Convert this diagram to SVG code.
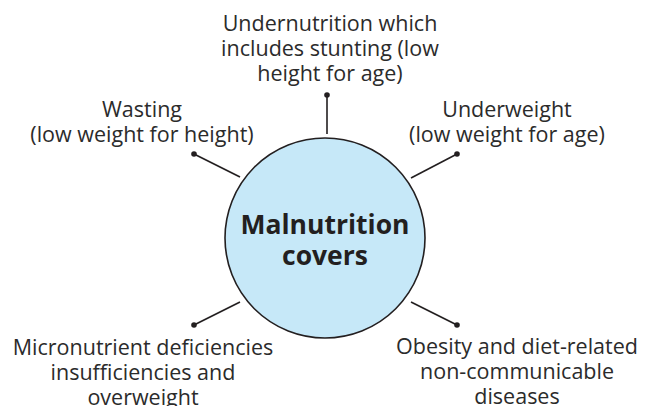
<svg xmlns="http://www.w3.org/2000/svg" width="645" height="406" viewBox="0 0 645 406">
<style>
.t{font-family:"Open Sans","Noto Sans","Liberation Sans",sans-serif;font-size:21.5px;fill:#2b2b2b;text-anchor:middle}
.c{font-family:"Open Sans","Noto Sans","Liberation Sans",sans-serif;font-size:26.5px;font-weight:bold;fill:#231f20;text-anchor:middle}
.ln{stroke:#231f20;stroke-width:1.6;fill:none}
.dot{fill:#231f20}
</style>
<rect width="645" height="406" fill="#ffffff"/>
<g id="connectors">
<line class="ln" x1="327" y1="95" x2="327" y2="134"/><circle class="dot" cx="327" cy="95" r="2.8"/>
<line class="ln" x1="194" y1="154" x2="240" y2="177"/><circle class="dot" cx="194" cy="154" r="2.8"/>
<line class="ln" x1="457" y1="154" x2="411" y2="178"/><circle class="dot" cx="457" cy="154" r="2.8"/>
<line class="ln" x1="194" y1="325" x2="240" y2="302"/><circle class="dot" cx="194" cy="325" r="2.8"/>
<line class="ln" x1="457" y1="325" x2="411" y2="302"/><circle class="dot" cx="457" cy="325" r="2.8"/>
</g>
<g id="center">
<circle cx="325" cy="238" r="100" fill="#c6e8f8" stroke="#231f20" stroke-width="1.6"/>
<text class="c" x="325" y="234">Malnutrition</text>
<text class="c" x="325" y="265">covers</text>
</g>
<g id="undernutrition">
<text class="t" x="330" y="31">Undernutrition which</text>
<text class="t" x="330" y="56">includes stunting (low</text>
<text class="t" x="330" y="81">height for age)</text>
</g>
<g id="wasting">
<text class="t" x="142" y="117">Wasting</text>
<text class="t" x="142" y="142">(low weight for height)</text>
</g>
<g id="underweight">
<text class="t" x="507" y="117">Underweight</text>
<text class="t" x="507" y="142">(low weight for age)</text>
</g>
<g id="micronutrient">
<text class="t" x="143" y="355">Micronutrient deficiencies</text>
<text class="t" x="143" y="380">insufficiencies and</text>
<text class="t" x="143" y="405">overweight</text>
</g>
<g id="obesity">
<text class="t" x="517" y="354">Obesity and diet-related</text>
<text class="t" x="517" y="379">non-communicable</text>
<text class="t" x="517" y="404">diseases</text>
</g>
</svg>
